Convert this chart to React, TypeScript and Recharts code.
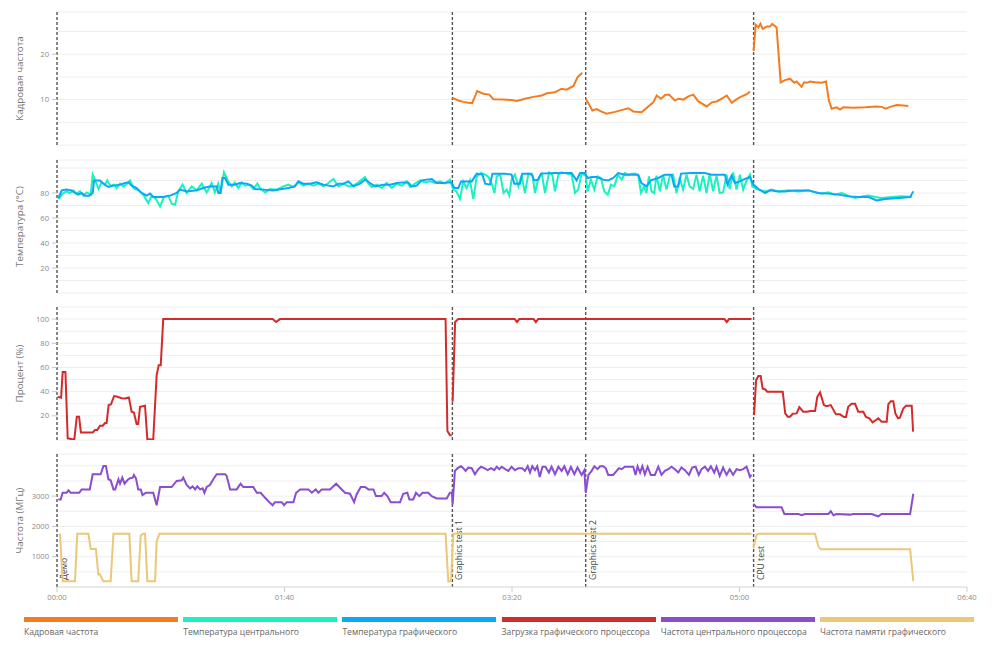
import React from "react";
import { LineChart, Line, XAxis, YAxis, CartesianGrid, ReferenceLine } from "recharts";

type Pt = [number, number | null];

// test markers, seconds from start
const markerTimes = [0, 173.8, 232.4, 306.2];
const markerNames = ["Демо", "Graphics test 1", "Graphics test 2", "CPU test"];

const timeTicks = [0, 100, 200, 300, 400];

const fpsTicks = [0, 5, 10, 15, 20, 25];
const fpsLabels = [10, 20];
const tempTicks = [0, 10, 20, 30, 40, 50, 60, 70, 80, 90, 100];
const tempLabels = [20, 40, 60, 80];
const loadTicks = [0, 10, 20, 30, 40, 50, 60, 70, 80, 90, 100, 110];
const loadLabels = [20, 40, 60, 80, 100];
const freqTicks = [0, 500, 1000, 1500, 2000, 2500, 3000, 3500, 4000];
const freqLabels = [1000, 2000, 3000];

const fpsPoints: Pt[] = [
  [173.8, 10.4], [176.4, 9.8], [178.6, 9.5], [180.8, 9.3], [182.5, 9.2], [184.7, 11.9], [187.4, 11.3], [190.0, 11.1],
  [191.8, 10.1], [196.2, 10.0], [199.9, 9.9], [202.1, 9.7], [205.7, 10.2], [209.4, 10.6], [213.1, 10.9], [215.3, 11.4],
  [218.9, 11.6], [221.8, 12.4], [224.0, 12.2], [227.0, 13.0], [228.9, 15.0], [230.9, 15.9],
  [231.6, null],
  [232.4, 10.2], [233.8, 9.0], [235.3, 7.6], [237.2, 7.9], [239.1, 7.4], [241.6, 6.9], [245.3, 7.3], [248.9, 7.8],
  [251.1, 8.1], [253.3, 7.4], [257.0, 7.2], [259.9, 8.5], [262.1, 9.4], [263.6, 10.9], [265.5, 10.2], [267.3, 11.0],
  [269.0, 11.1], [271.6, 9.8], [273.1, 10.2], [275.3, 10.0], [277.5, 10.7], [279.7, 11.1], [281.9, 9.6], [285.6, 8.5],
  [287.8, 9.4], [290.0, 9.6], [292.2, 10.2], [294.4, 10.9], [296.6, 9.3], [298.8, 10.1], [301.0, 10.7], [303.2, 11.2],
  [304.6, 11.8],
  [305.4, null],
  [306.2, 20.7], [307.1, 26.5], [308.3, 25.9], [309.2, 26.7], [310.2, 25.6], [312.0, 26.1], [313.4, 26.1], [314.4, 26.7],
  [316.3, 25.9], [318.1, 13.8], [320.0, 14.3], [322.2, 14.6], [324.1, 13.7], [325.1, 14.0], [327.3, 12.8], [328.4, 13.8],
  [329.5, 13.7], [331.0, 14.0], [333.2, 13.8], [336.1, 13.7], [338.0, 14.0], [339.3, 9.8], [340.5, 8.0], [342.7, 8.3],
  [344.2, 7.8], [345.6, 8.3], [350.0, 8.2], [355.2, 8.3], [360.3, 8.5], [362.5, 8.4], [364.3, 8.0], [366.2, 8.4],
  [369.1, 8.8], [372.0, 8.7], [374.2, 8.6],
];

const cpuTempPoints: Pt[] = [
  [0.6, 75.2], [2.8, 80], [4.2, 81.3], [5.7, 80], [7.2, 82.1], [8.6, 79.5], [10.1, 81.3], [11.6, 77.9], [13.0, 80.5],
  [14.8, 78.7], [15.7, 94.7], [16.7, 90.7], [18.2, 83.2], [19.6, 88.5], [21.1, 86.7], [22.1, 90.1], [23.3, 85.9],
  [25.1, 86.7], [26.2, 84], [27.7, 87.5], [29.2, 85.3], [30.9, 87.5], [32.1, 90.1], [33.6, 84], [35.8, 82.1],
  [37.9, 78.7], [40.1, 72], [41.6, 77.9], [43.5, 75.2], [45.3, 69.3], [47.0, 76.8], [48.9, 77.9], [50.4, 71.5],
  [51.9, 70.7], [53.3, 81.3], [55.2, 86.7], [57.0, 80], [59.2, 85.3], [61.4, 82.1], [63.6, 87.5], [65.8, 80.5],
  [68.0, 88], [69.4, 80.5], [70.9, 87.5], [71.9, 80], [73.4, 96.5], [75.3, 89.3], [76.8, 85.3], [78.2, 88.5],
  [79.7, 84], [81.2, 88.5], [82.6, 85.9], [84.5, 86.7], [86.3, 83.2], [88.1, 87.5], [89.2, 84], [91.5, 80.5],
  [93.6, 83.2], [96.6, 82.7], [99.5, 85.3], [101.7, 86.7], [103.9, 84.8], [106.1, 88.5], [108.3, 85.9], [110.5, 87.5],
  [112.7, 85.9], [114.9, 87.5], [117.1, 85.3], [119.3, 88], [121.5, 91.2], [123.7, 85.3], [125.9, 87.5], [128.1, 85.3],
  [130.3, 85.9], [132.5, 88.5], [135.4, 92.8], [136.9, 87.5], [138.3, 84.8], [140.6, 86.7], [142.7, 84], [144.9, 88],
  [147.1, 84], [149.3, 87.5], [151.5, 85.9], [153.7, 89.3], [155.2, 84.8], [157.4, 87.5], [159.6, 90.1], [161.8, 88.5],
  [164.0, 89.3], [166.2, 88], [168.4, 89.3], [170.5, 87.5], [172.7, 90.7], [174.2, 82.7], [175.6, 81.3], [177.1, 75.2],
  [178.6, 89.3], [180.0, 84], [181.5, 90.1], [183.0, 75.2], [184.5, 93.3], [186.4, 96], [188.2, 94.7], [189.6, 92.8],
  [191.1, 87.5], [192.3, 80], [193.3, 93.3], [194.8, 94.7], [196.3, 80], [197.7, 82.7], [198.8, 77.9], [199.8, 90.7],
  [201.3, 94.7], [202.8, 85.3], [204.2, 93.9], [205.7, 80], [207.2, 95.5], [209.0, 93.9], [210.1, 80], [211.6, 92],
  [213.1, 95.5], [214.5, 80], [216.3, 96.5], [217.7, 94.7], [218.9, 81.3], [220.4, 94.7], [221.8, 96.5], [224.0, 95.5],
  [226.2, 94.7], [227.7, 80], [229.1, 82.7], [230.6, 95.5], [232.4, 93.9], [233.2, 81.3], [234.7, 90.7], [236.2, 82.7],
  [237.6, 93.3], [239.1, 92], [240.6, 81.3], [242.1, 78.7], [243.5, 86.7], [245.0, 85.3], [246.5, 94.7], [248.2, 90.7],
  [249.6, 96], [251.1, 94.7], [252.6, 95.5], [254.3, 95.5], [255.5, 93.9], [256.7, 80], [258.1, 85.3], [259.1, 80],
  [260.2, 93.3], [261.3, 81.3], [262.5, 80], [263.5, 93.9], [265.0, 81.3], [266.4, 94.7], [267.9, 82.7], [269.4, 93.9],
  [270.8, 94.7], [272.3, 80], [273.7, 92], [275.2, 82.7], [276.7, 94.7], [278.1, 85.3], [279.6, 83.2], [281.1, 94.7],
  [282.5, 81.3], [284.0, 93.9], [285.5, 80], [286.9, 95.5], [288.4, 81.3], [289.9, 93.9], [291.3, 80], [292.8, 80.5],
  [294.3, 94.7], [295.7, 83.2], [297.2, 96.5], [298.7, 82.7], [300.2, 94.7], [301.6, 82.7], [303.1, 90.1], [304.6, 94.7],
  [305.6, 85.3], [307.5, 83.2], [309.7, 82.1], [311.9, 81.3], [314.1, 82.7], [317.1, 81.3], [321.5, 82.1], [325.9, 81.3],
  [330.3, 82.1], [333.2, 80.5], [336.1, 79.5], [339.1, 80.5], [342.0, 78.7], [344.9, 80], [347.9, 77.9], [350.8, 76],
  [353.7, 77.3], [356.7, 77.9], [359.6, 76.8], [362.5, 76], [366.9, 76.8], [371.3, 77.3], [375.7, 76.8],
];

const gpuTempPoints: Pt[] = [
  [0.6, 76], [2.1, 82.1], [4.2, 82.7], [6.4, 82.1], [7.9, 80], [9.4, 78.7], [10.8, 80], [12.3, 77.9], [14.2, 77.9],
  [15.7, 80], [16.3, 90.1], [18.9, 90.1], [20.4, 87.5], [22.6, 84.8], [24.8, 85.9], [27.7, 86.7], [29.9, 88],
  [31.4, 88.5], [32.8, 85.9], [35.0, 84], [37.2, 80], [39.4, 77.9], [40.9, 79.5], [42.3, 76.8], [46.7, 76.8],
  [49.7, 77.9], [52.6, 80], [54.1, 82.7], [57.0, 81.3], [61.4, 82.1], [64.3, 84], [67.2, 85.3], [70.2, 85.3],
  [70.9, 80], [71.9, 80], [72.7, 92], [73.9, 92], [75.3, 86.7], [78.2, 86.7], [80.4, 88], [83.4, 87.5], [85.6, 85.9],
  [87.0, 83.2], [90.7, 82.7], [95.1, 82.1], [98.8, 83.2], [101.7, 84], [104.6, 85.3], [106.1, 89.3], [108.3, 87.5],
  [111.2, 87.5], [114.1, 88.5], [117.1, 86.7], [121.5, 85.3], [123.7, 87.5], [125.9, 87.5], [128.1, 89.3], [130.3, 85.3],
  [133.2, 87.5], [135.4, 90.7], [137.6, 88], [139.8, 85.3], [143.4, 86.7], [146.4, 86.7], [149.3, 88], [152.2, 88.5],
  [154.4, 88.5], [155.9, 85.3], [158.1, 85.9], [160.3, 90.1], [162.5, 90.7], [164.7, 91.2], [166.9, 88], [169.8, 88],
  [172.7, 88.5], [173.4, 88.5], [174.7, 84], [176.4, 84], [177.6, 89.3], [182.3, 89.3], [184.5, 95.5], [187.0, 94.7],
  [188.2, 87.5], [190.3, 86.7], [191.4, 95.5], [196.9, 95.5], [199.8, 94.7], [201.0, 87.5], [203.5, 87.5], [204.5, 95.5],
  [208.6, 95.5], [209.8, 90.1], [211.6, 90.7], [212.7, 95.5], [218.9, 96], [226.2, 96], [228.4, 90.1], [229.9, 96],
  [232.1, 96], [233.2, 92], [235.0, 92.8], [237.2, 92.8], [240.1, 90.7], [242.3, 90.1], [244.5, 92], [246.7, 96],
  [249.6, 94.7], [255.5, 94.7], [256.9, 88], [259.1, 85.3], [261.0, 90.1], [264.3, 92], [267.2, 94.7], [270.1, 94.7],
  [271.3, 85.3], [273.1, 85.3], [274.3, 95.5], [278.9, 96], [284.8, 96], [287.7, 94.7], [293.6, 94.7], [294.7, 86.7],
  [296.5, 93.9], [298.0, 88], [300.2, 89.3], [301.6, 90.7], [304.6, 92.8], [306.1, 86.7], [308.3, 83.2], [311.2, 80],
  [313.4, 82.1], [317.1, 81.3], [320.0, 81.3], [324.4, 82.1], [330.3, 82.1], [334.7, 80], [339.1, 79.5], [343.5, 78.7],
  [347.9, 77.3], [352.3, 76.8], [356.7, 76.8], [360.3, 74.1], [364.0, 75.2], [369.9, 76], [375.0, 76.8], [376.4, 81.3],
];

const gpuLoadPoints: Pt[] = [
  [0.3, 35.7], [1.8, 35], [2.5, 56.3], [3.7, 56.3], [4.7, 1.4], [6.2, 0.9], [7.6, 0.3], [8.7, 19.3], [9.7, 19.3],
  [10.5, 6.3], [15.7, 6.3], [16.7, 8.2], [17.7, 8.2], [18.9, 11.8], [20.1, 11.8], [21.1, 14.0], [21.8, 14.0],
  [22.7, 28.9], [23.7, 29.4], [25.1, 36.3], [26.2, 36.0], [28.4, 34.6], [29.9, 34.4], [31.6, 35.2], [32.8, 23.4],
  [33.8, 22.8], [35.0, 13.2], [35.7, 13.2], [36.5, 27.5], [38.7, 28.3], [39.7, 0.8], [42.3, 0.3], [43.8, 53.6],
  [44.7, 61.9], [45.6, 61.9], [46.7, 100], [94.8, 100], [96.3, 97.6], [98.0, 100], [170.8, 100], [171.6, 7.4],
  [172.7, 4.1], [173.5, 3.6],
  [173.7, null],
  [173.9, 31.6], [175.0, 97.6], [176.4, 100], [201.2, 100], [202.2, 97.5], [203.2, 100], [209.5, 100], [210.5, 97.5],
  [211.5, 100], [293.4, 100], [294.4, 97.5], [295.4, 100], [305.3, 100],
  [305.8, null],
  [306.4, 20.6], [307.3, 49.5], [308.3, 52.9], [309.3, 52.9], [310.2, 42.5], [311.2, 42.0], [312.2, 39.9], [319.0, 39.9],
  [320.1, 22.0], [321.2, 19.3], [322.2, 19.3], [323.4, 21.7], [325.1, 22.0], [326.3, 27.2], [328.0, 23.4], [329.5, 23.4],
  [331.3, 23.9], [333.2, 23.9], [334.2, 35.7], [335.4, 39.3], [337.1, 28.9], [338.3, 28.0], [340.1, 28.9], [342.4, 21.2],
  [344.2, 21.2], [345.9, 19.0], [346.8, 19.0], [347.8, 27.5], [349.3, 29.9], [350.8, 29.9], [352.2, 23.4], [354.4, 23.4],
  [355.6, 19.0], [357.1, 17.9], [358.5, 14.6], [360.0, 16.5], [361.0, 17.9], [362.5, 15.1], [364.7, 15.1], [365.4, 29.4],
  [366.5, 32.1], [367.6, 32.1], [368.5, 22.0], [369.7, 17.9], [370.5, 18.4], [372.0, 26.1], [373.2, 28.3], [375.7, 28.3],
  [376.3, 6.9],
];

const cpuFreqPoints: Pt[] = [
  [0.6, 2889], [1.6, 2889], [2.5, 3111], [4.2, 3111], [5.0, 3189], [6.0, 3111], [9.8, 3111], [10.8, 3222], [14.4, 3222],
  [15.7, 3722], [19.2, 3722], [20.4, 3990], [21.5, 3990], [22.6, 3556], [23.6, 3522], [24.8, 3222], [25.6, 3222],
  [27.0, 3556], [27.7, 3411], [28.7, 3611], [29.7, 3411], [30.9, 3522], [32.1, 3589], [33.3, 3611], [33.8, 3700],
  [34.7, 3589], [35.7, 3222], [36.8, 3222], [37.6, 3033], [39.1, 3111], [42.3, 3111], [43.8, 2700], [45.3, 3300],
  [50.4, 3300], [52.6, 3500], [54.8, 3522], [55.5, 3611], [57.0, 3367], [58.5, 3256], [59.6, 3322], [60.7, 3222],
  [61.7, 3322], [62.9, 3222], [64.0, 3256], [64.8, 3111], [65.8, 3300], [67.2, 3367], [68.7, 3556], [70.2, 3722],
  [73.9, 3722], [74.6, 3667], [76.1, 3222], [79.0, 3222], [80.7, 3411], [81.9, 3300], [86.3, 3300], [87.8, 3111],
  [89.5, 3111], [91.5, 2944], [93.6, 2778], [94.8, 2700], [95.8, 2800], [98.8, 2800], [99.8, 2700], [101.0, 2800],
  [103.9, 2800], [105.1, 3111], [106.9, 3222], [110.5, 3222], [112.0, 3111], [113.7, 3222], [114.9, 3111], [116.4, 3222],
  [120.0, 3222], [122.7, 3411], [124.4, 3278], [126.6, 3111], [128.8, 3078], [130.6, 2800], [131.7, 3056], [133.5, 3300],
  [135.4, 3300], [136.9, 3222], [139.1, 3222], [140.2, 3000], [142.7, 3000], [143.8, 3111], [145.2, 3000], [146.7, 2800],
  [150.8, 2800], [152.2, 3078], [154.0, 3111], [154.9, 2889], [156.6, 2889], [157.8, 3111], [159.3, 3000], [160.7, 3111],
  [163.2, 3111], [164.7, 3000], [166.9, 2922], [171.3, 2922], [172.7, 3111], [173.6, 3111], [173.9, 2722], [174.9, 3833],
  [176.1, 3922], [177.6, 3985], [178.6, 3922], [179.6, 3833], [180.8, 3944], [182.3, 3922], [183.7, 3722], [185.2, 3889],
  [186.4, 3970], [187.8, 3922], [189.3, 3856], [190.8, 3922], [192.2, 3856], [193.3, 3970], [194.4, 3889], [195.5, 3970],
  [197.0, 3889], [198.4, 3833], [199.8, 3970], [201.3, 3856], [202.8, 3922], [204.5, 3922], [205.7, 3833], [206.9, 3990],
  [207.9, 3778], [208.9, 3990], [210.1, 3856], [211.1, 3985], [212.2, 3633], [213.4, 3970], [214.7, 3970], [216.2, 3778],
  [217.4, 3970], [218.9, 3722], [220.4, 3970], [221.8, 3833], [223.0, 3985], [224.5, 3722], [225.9, 3960], [227.4, 3722],
  [228.8, 3944], [230.6, 3700], [231.8, 3856], [232.4, 3111], [233.6, 3700], [235.0, 3833], [236.2, 3985], [237.6, 3889],
  [238.7, 3985], [240.1, 3985], [241.2, 3922], [242.3, 3700], [244.5, 3700], [246.0, 3833], [247.0, 3922], [248.2, 3889],
  [249.6, 3970], [253.3, 3970], [254.3, 3700], [255.2, 3985], [256.3, 3778], [257.3, 3990], [258.4, 3722], [259.6, 3970],
  [261.0, 3700], [262.8, 3700], [264.3, 3970], [265.7, 3700], [267.2, 3833], [268.7, 3889], [270.1, 3970], [271.6, 3889],
  [273.1, 3778], [274.5, 3944], [276.0, 3856], [277.8, 3700], [279.2, 3944], [280.7, 3970], [282.1, 3700], [283.3, 3889],
  [284.8, 3970], [286.2, 3833], [287.4, 3985], [288.9, 3778], [289.9, 3970], [291.3, 3667], [292.8, 3944], [294.3, 3700],
  [295.7, 3889], [297.2, 3700], [298.7, 3889], [300.2, 3856], [301.6, 3889], [303.1, 3970], [304.6, 3633], [305.3, 3700],
  [305.7, null],
  [306.1, 2744], [307.5, 2633], [318.5, 2633], [319.7, 2411], [325.9, 2411], [327.3, 2367], [328.8, 2411], [339.1, 2411],
  [340.1, 2500], [341.3, 2367], [342.7, 2411], [348.6, 2389], [350.0, 2411], [358.1, 2411], [359.6, 2367], [361.0, 2333],
  [362.5, 2411], [375.0, 2411], [376.4, 3078],
];

const memFreqPoints: Pt[] = [
  [1.3, 1756], [2.5, 189], [7.9, 189], [8.9, 1756], [13.8, 1756], [14.8, 1256], [17.1, 1256], [18.2, 411], [18.9, 411],
  [20.4, 189], [23.6, 189], [24.8, 1756], [31.8, 1756], [32.8, 189], [35.7, 189], [36.8, 1700], [37.9, 1756],
  [38.7, 1756], [39.7, 189], [43.1, 189], [43.8, 1500], [45.0, 1756], [170.8, 1756], [172.0, 189], [173.2, 189],
  [174.2, 1756], [305.3, 1756],
  [305.7, null],
  [306.1, 1278], [307.5, 1722], [308.5, 1756], [333.2, 1756], [334.7, 1333],
  [335.8, 1244], [375.0, 1244], [376.4, 189],
];

const rows = (pts: Pt[]) => pts.map(([t, v]) => ({ t, v }));

const fmtTime = (s: number) =>
  `${String(Math.floor(s / 60)).padStart(2, "0")}:${String(Math.round(s % 60)).padStart(2, "0")}`;

const legend = [
  { name: "Кадровая частота", color: "#f47c20" },
  { name: "Температура центрального", color: "#1bf0c0" },
  { name: "Температура графического", color: "#0aa8f5" },
  { name: "Загрузка графического процессора", color: "#d32b2b" },
  { name: "Частота центрального процессора", color: "#8a4dcf" },
  { name: "Частота памяти графического", color: "#eac878" },
];

const YTick = (props: any) => {
  const { x, y, payload, labels } = props;
  if (!labels.includes(payload.value)) return null;
  return (
    <g>
      <line x1={x + 3} x2={x + 8} y1={y} y2={y} stroke="#c8c8c8" />
      <text x={x} y={y} dy="0.35em" textAnchor="end" fontSize={7.6} fill="#8a8a8a">
        {payload.value}
      </text>
    </g>
  );
};

const MarkerLabel = (props: any) => {
  const { viewBox, text } = props;
  if (!viewBox) return null;
  const x = viewBox.x + 10;
  const y = viewBox.y + viewBox.height - 7;
  return (
    <text x={x} y={y} transform={`rotate(-90, ${x}, ${y})`} fontSize={8.6} fill="#444">
      {text}
    </text>
  );
};

type PanelProps = {
  top: number;
  domain: [number, number];
  ticks: number[];
  labels: number[];
  title: string;
  series: { points: Pt[]; color: string }[];
  bottom?: boolean;
};

function Panel({ top, domain, ticks, labels, title, series, bottom }: PanelProps) {
  const plotH = 133;
  const xH = bottom ? 26 : 0;
  return (
    <div style={{ position: "absolute", left: 0, top: top - 4 }}>
      <LineChart width={1000} height={plotH + 8 + xH - (bottom ? 4 : 0)} margin={{ top: 4, right: 33, bottom: bottom ? 0 : 4, left: 0 }}>
        <CartesianGrid vertical={false} stroke="#eeeeee" />
        <XAxis
          type="number"
          dataKey="t"
          domain={[0, 400]}
          ticks={timeTicks}
          allowDataOverflow
          hide={!bottom}
          height={xH}
          tickFormatter={fmtTime}
          tick={{ fontSize: 7.6, fill: "#8a8a8a" }}
          tickSize={5}
          tickMargin={3}
          axisLine={{ stroke: "#dddddd" }}
          tickLine={{ stroke: "#cccccc" }}
          interval={0}
        />
        <YAxis
          type="number"
          domain={domain}
          ticks={ticks}
          allowDataOverflow
          interval={0}
          width={57}
          axisLine={false}
          tickLine={false}
          tickSize={5}
          tickMargin={3}
          tick={(p: any) => <YTick {...p} labels={labels} />}
          label={{
            value: title,
            angle: -90,
            position: "insideLeft",
            offset: 20,
            style: { textAnchor: "middle", fill: "#777", fontSize: 9.8 },
          }}
        />
        {markerTimes.map((mt, i) => (
          <ReferenceLine
            key={mt}
            x={mt}
            stroke="#555"
            strokeWidth={1.4}
            strokeDasharray="3 2"
            label={bottom ? (p: any) => <MarkerLabel {...p} text={markerNames[i]} /> : undefined}
          />
        ))}
        {series.map((s, i) => (
          <Line
            key={i}
            data={rows(s.points)}
            dataKey="v"
            type="linear"
            stroke={s.color}
            strokeWidth={2}
            dot={false}
            activeDot={false}
            isAnimationActive={false}
            connectNulls={false}
          />
        ))}
      </LineChart>
    </div>
  );
}

export default function App() {
  return (
    <div
      style={{
        position: "absolute",
        left: 0,
        top: 0,
        width: 1000,
        height: 646,
        background: "#fff",
        fontFamily: "'Open Sans', sans-serif",
      }}
    >
      <Panel top={12} domain={[0, 29.3]} ticks={fpsTicks} labels={fpsLabels} title="Кадровая частота"
        series={[{ points: fpsPoints, color: legend[0].color }]} />
      <Panel top={160} domain={[0, 106.4]} ticks={tempTicks} labels={tempLabels} title="Температура (°C)"
        series={[{ points: cpuTempPoints, color: legend[1].color }, { points: gpuTempPoints, color: legend[2].color }]} />
      <Panel top={307} domain={[0, 110]} ticks={loadTicks} labels={loadLabels} title="Процент (%)"
        series={[{ points: gpuLoadPoints, color: legend[3].color }]} />
      <Panel top={454} domain={[0, 4390]} ticks={freqTicks} labels={freqLabels} title="Частота (МГц)" bottom
        series={[{ points: cpuFreqPoints, color: legend[4].color }, { points: memFreqPoints, color: legend[5].color }]} />
      {legend.map((item, i) => (
        <div key={item.name} style={{ position: "absolute", left: 24 + i * 159.2, top: 617, width: 154 }}>
          <div style={{ height: 5, background: item.color }} />
          <div style={{ marginTop: 4, fontSize: 8.6, color: "#666", whiteSpace: "nowrap", lineHeight: "12px" }}>{item.name}</div>
        </div>
      ))}
    </div>
  );
}
